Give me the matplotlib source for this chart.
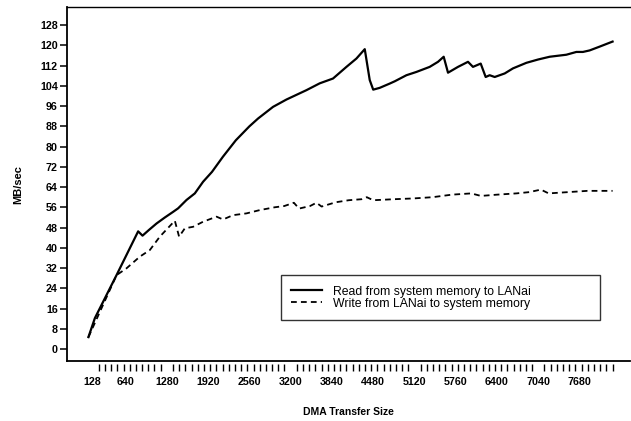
import matplotlib
matplotlib.use("Agg")
import matplotlib.pyplot as plt
import numpy as np

plt.rcParams['font.family'] = ['Liberation Sans', 'DejaVu Sans']

# DMA transfer size (bytes) vs throughput (MB/sec)
read_x = [64, 164, 500, 835, 903, 1000, 1120, 1250, 1377, 1455, 1585, 1714,
          1842, 1980, 2150, 2350, 2560, 2695, 2927, 3135, 3445, 3651, 3857,
          4065, 4220, 4349, 4426, 4480, 4580, 4736, 4814, 4995, 5150, 5356,
          5485, 5573, 5640, 5795, 5950, 6027, 6147, 6224, 6286, 6364, 6519,
          6647, 6855, 7035, 7216, 7475, 7630, 7732, 7836, 7991, 8192]
read_y = [4.7, 12.2, 29.2, 46.5, 44.8, 47, 49.6, 52, 54.2, 55.6, 58.9, 61.5,
          66.1, 70, 76, 82.5, 88, 91.1, 95.7, 98.6, 102.3, 105.0, 106.9,
          111.5, 114.8, 118.5, 106.3, 102.5, 103.2, 104.9, 105.8, 108.2, 109.5, 111.5,
          113.5, 115.5, 109.2, 111.5, 113.5, 111.5, 112.8, 107.5, 108.2, 107.5, 108.9,
          110.9, 113.1, 114.4, 115.5, 116.3, 117.4, 117.4, 118, 119.5, 121.5]

write_x = [64, 500, 655, 861, 1016, 1171, 1404, 1470, 1559, 1687, 1842, 2050,
           2152, 2307, 2515, 2721, 2950, 3100, 3250, 3330, 3500, 3600, 3680,
           3900, 4100, 4300, 4380, 4480, 4800, 5100, 5400, 5700, 6000, 6150,
           6400, 6700, 6900, 7080, 7200, 7500, 7800, 8000, 8192]
write_y = [4.7, 29.2, 31.9, 36.5, 39.1, 44.4, 50.7, 44.4, 47.7, 48.3, 50.3, 52.3,
           51.2, 52.9, 53.6, 54.9, 56, 56.5, 57.8, 55.5, 56.5, 57.8, 56.3,
           58, 58.8, 59.2, 60.0, 58.8, 59.2, 59.5, 60, 61, 61.5, 60.5,
           61, 61.5, 62, 63, 61.5, 62, 62.5, 62.5, 62.5]

x_labels = [128, 640, 1280, 1920, 2560, 3200, 3840, 4480, 5120, 5760, 6400, 7040, 7680]
x_minor = np.arange(128, 8193, 96)
y_ticks = np.arange(0, 129, 8)

fig = plt.figure(figsize=(6.31, 4.21), dpi=100)
ax = fig.add_axes([0.106, 0.1425, 0.892, 0.8405])

ax.plot(read_x, read_y, color='black', lw=1.6, label='Read from system memory to LANai')
ax.plot(write_x, write_y, color='black', lw=1.3, dashes=(3.2, 2.3),
        label='Write from LANai to system memory')

ax.set_xlim(-270, 8458)
ax.set_ylim(-4.74, 135.1)

ax.spines['right'].set_visible(False)
ax.spines['top'].set_linewidth(1.0)
ax.spines['left'].set_linewidth(1.3)
# x ticks sit a little below the frame line
ax.spines['bottom'].set_position(('outward', 2.2))
ax.spines['bottom'].set_visible(False)
ax.axhline(-4.74, color='black', lw=1.3, clip_on=False)

ax.set_xticks(x_labels)
ax.set_xticklabels([str(v) for v in x_labels], fontsize=7.7, fontweight='bold')
ax.set_xticks(x_minor, minor=True)
ax.tick_params(axis='x', which='major', length=0, pad=9)
ax.tick_params(axis='x', which='minor', length=5, width=1.0, direction='out')

ax.set_yticks(y_ticks)
ax.set_yticklabels([str(v) for v in y_ticks], fontsize=7.7, fontweight='bold')
ax.tick_params(axis='y', length=5, width=1.1, pad=1.5, direction='out')

ax.set_ylabel('MB/sec', fontsize=8, fontweight='bold', labelpad=12)
ax.set_xlabel('DMA Transfer Size', fontsize=7.5, fontweight='bold', labelpad=15)

leg = ax.legend(loc='lower left', bbox_to_anchor=(0.38, 0.116, 0.568, 0.13),
                mode='expand', fontsize=8.8, frameon=True, fancybox=False,
                edgecolor='black', handlelength=2.5, handletextpad=0.9,
                borderaxespad=0, borderpad=0.85, labelspacing=0.0)
leg.get_frame().set_linewidth(1.0)

fig.savefig('out.png', dpi=100)
